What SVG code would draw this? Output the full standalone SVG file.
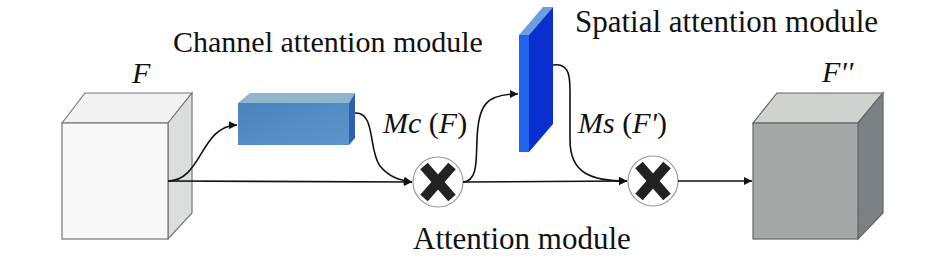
<svg xmlns="http://www.w3.org/2000/svg" width="945" height="262" viewBox="0 0 945 262">
<defs>
<marker id="ah" viewBox="0 0 10 10" refX="10" refY="5" markerWidth="9" markerHeight="8" markerUnits="userSpaceOnUse" orient="auto">
<path d="M0,0 L10,5 L0,10 Z" fill="#111"/>
</marker>
<linearGradient id="bf" x1="0" y1="0" x2="1" y2="1">
<stop offset="0" stop-color="#4b84bd"/><stop offset="1" stop-color="#5c95cc"/>
</linearGradient>
</defs>
<rect width="945" height="262" fill="#fff"/>

<g id="input-F">
<polygon points="62,123 85,93 192,93 168,123" fill="#f2f2f2" stroke="#777" stroke-width="1.2"/>
<polygon points="168,123 192,93 192,213 168,239" fill="#dcdedd" stroke="#777" stroke-width="1.2"/>
<rect x="62" y="123" width="106" height="116" fill="#f8f8f8" stroke="#777" stroke-width="1.2"/>
<text x="132" y="83" style="font-family:'Liberation Serif';font-size:30px;font-style:italic" fill="#111">F</text>
</g>

<g id="channel-attention">
<polygon points="238,103 250,93 355,93 349,103" fill="#8fb6cc"/>
<polygon points="349,103 355,93 355,138 349,145" fill="#2f5fb3"/>
<rect x="238" y="103" width="111" height="42" fill="url(#bf)"/>
<text x="173" y="52" style="font-family:'Liberation Serif';font-size:30px" fill="#111">Channel attention module</text>
</g>

<g id="spatial-attention">
<polygon points="519,35 529,35 553,7 543,7" fill="#6b9fe0"/>
<polygon points="529,35 553,7 553,124 529,152" fill="#0a2fcf"/>
<rect x="519" y="35" width="10" height="117" fill="#2163ec"/>
<text x="575" y="32" style="font-family:'Liberation Serif';font-size:31px" fill="#111">Spatial attention module</text>
</g>

<g id="multiply-1">
<circle cx="438" cy="182" r="25" fill="#fff" stroke="#9a9a9a" stroke-width="1.2"/>
<line x1="424" y1="166" x2="452" y2="198" stroke="#222" stroke-width="10"/>
<line x1="452" y1="166" x2="424" y2="198" stroke="#222" stroke-width="10"/>
</g>

<g id="multiply-2">
<circle cx="653" cy="181" r="25" fill="#fff" stroke="#9a9a9a" stroke-width="1.2"/>
<line x1="639" y1="165" x2="667" y2="197" stroke="#222" stroke-width="10"/>
<line x1="667" y1="165" x2="639" y2="197" stroke="#222" stroke-width="10"/>
</g>

<g id="output-F2">
<polygon points="753,123 777,93 883,93 858,123" fill="#ced3cf" stroke="#666" stroke-width="1.2"/>
<polygon points="858,123 883,93 883,213 858,239" fill="#7b8286" stroke="#666" stroke-width="1.2"/>
<rect x="753" y="123" width="105" height="116" fill="#a1a8a6" stroke="#666" stroke-width="1.2"/>
<text x="822" y="82" style="font-family:'Liberation Serif';font-size:30px;font-style:italic" fill="#111">F''</text>
</g>

<g id="labels">
<text x="383" y="133" style="font-family:'Liberation Serif';font-size:30px" fill="#111"><tspan style="font-style:italic">Mc</tspan> (<tspan style="font-style:italic">F</tspan>)</text>
<text x="578" y="133" style="font-family:'Liberation Serif';font-size:30px" fill="#111"><tspan style="font-style:italic">Ms</tspan> (<tspan style="font-style:italic">F'</tspan>)</text>
<text x="413" y="249" style="font-family:'Liberation Serif';font-size:31px" fill="#111">Attention module</text>
</g>

<g id="connectors" fill="none" stroke="#111" stroke-width="1.6">
<path d="M168,181 L412,182" marker-end="url(#ah)"/>
<path d="M168,181 C202,181 200,126 237,125" marker-end="url(#ah)"/>
<path d="M355,113 C376,112 368,150 380,166 C390,178 400,180 412,182" marker-end="url(#ah)"/>
<path d="M463,182 C478,181 476,160 477,140 C478,105 486,94 518,94" marker-end="url(#ah)"/>
<path d="M553,65 C572,62 570,82 570,100 L570,140 C570,174 592,181 627,181" marker-end="url(#ah)"/>
<path d="M463,182 L627,181" marker-end="url(#ah)"/>
<path d="M678,181 L752,181" marker-end="url(#ah)"/>
</g>
</svg>
